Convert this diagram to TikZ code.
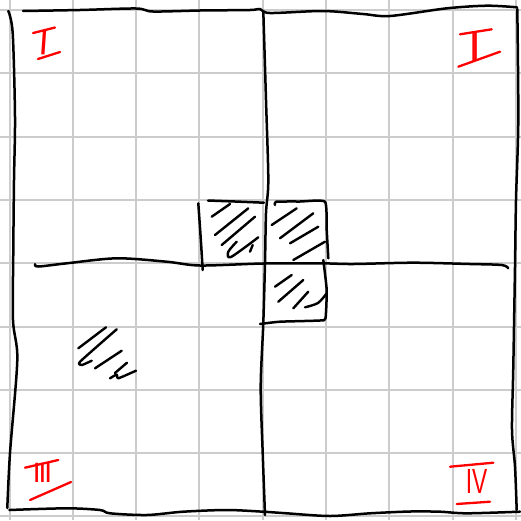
\documentclass[tikz,border=0pt]{standalone}
\usepackage{fontspec}
\setsansfont{Liberation Sans}
\begin{document}
\begin{tikzpicture}[x=1pt,y=-1pt,
  gridline/.style={draw=gray!40,line width=2pt},
  ink/.style={draw=black,line width=2.5pt,line cap=round,line join=round},
  hatch/.style={draw=black,line width=2.4pt,line cap=round,line join=round},
  redink/.style={draw=red,line width=2.3pt,line cap=round},
  numeral/.style={text=red,inner sep=0pt,font=\sffamily}]
\useasboundingbox (0,0) rectangle (521,520);
\fill[white] (0,0) rectangle (521,520);
% grid
\foreach \k in {0,...,8}{
  \draw[gridline] ({9.5+63.3*\k},0) -- ({9.5+63.3*\k},520);
  \draw[gridline] (0,{10+63.3*\k}) -- (521,{10+63.3*\k});
}
% outer frame
\draw[ink] plot[smooth,tension=0.5] coordinates {(23,11) (80,10) (136,8.5) (153,11.5) (200,10.5) (250,10) (260,9) (270,13) (323,11) (363,14) (390,16) (447,8.3) (487,5.7) (517,7.3)};
\draw[ink] plot[smooth,tension=0.5] coordinates {(8.3,11) (12.7,33) (15,116.7) (14,180) (13.3,250) (13,320) (17.3,360) (10,453) (7.3,508)};
\draw[ink] plot[smooth,tension=0.5] coordinates {(9.3,510) (66.7,508.3) (100,510) (110,513.3) (146.7,515) (183,511.7) (226.7,510) (263.3,511.7) (286.7,513.3) (330,516) (370,513.3) (410,511.5) (440,511.7) (466.7,513.3) (520,511.7)};
\draw[ink] plot[smooth,tension=0.5] coordinates {(517.3,9) (518.3,120) (516,200) (515,266.7) (513.3,366.7) (512,430) (515,466.7) (516.7,510)};
% centre cross
\draw[ink] plot[smooth,tension=0.5] coordinates {(263.3,11) (266,100) (268.3,180) (266,213) (265,263) (263.3,323) (260.7,386.7) (262.7,453) (265,515)};
\draw[ink] plot[smooth,tension=0.5] coordinates {(35,264) (38.3,266.5) (66.7,263.3) (116.7,258.3) (166.7,261.7) (200,265.5) (263,263.5) (320,263.3) (353,264) (413,262.7) (470,264) (501.7,265) (508.3,268.3)};
% squares
\draw[ink] plot[smooth,tension=0.5] coordinates {(198.3,203.3) (200.7,238) (202.7,270)};
\draw[ink] plot[smooth,tension=0.5] coordinates {(208,200.5) (235,201.5) (264,202.7)};
\draw[ink] plot[smooth,tension=0.3] coordinates {(275,205) (276,201.7) (300,201.5) (325,201.7) (326.7,230) (328.3,258.3)};
\draw[ink] plot[smooth,tension=0.3] coordinates {(323.3,260) (326.7,290) (325.5,318.3) (320,320.5) (280,321.7) (260,324)};
% hatching left square
\draw[hatch] (211.7,216.7) -- (230,204);
\draw[hatch] (215,235) -- (248.3,208.3);
\draw[hatch] (221.7,245) -- (255,216.7);
\draw[hatch] plot[smooth,tension=0.5] coordinates {(236.7,241.7) (228.3,251.7) (231,257) (258.3,237.3)};
\draw[hatch] (250,251.7) -- (252.7,245);
% hatching top-right square
\draw[hatch] (271.7,225) -- (296.7,208.3);
\draw[hatch] (280,238.3) -- (313.3,213.3);
\draw[hatch] (290,243.3) -- (318.3,226.7);
\draw[hatch] (293.3,260) -- (325,241.7);
% hatching bottom-right square
\draw[hatch] (275,286.7) -- (291.7,275);
\draw[hatch] (278.3,301.7) -- (303.3,280);
\draw[hatch] (293.3,308.3) -- (308.3,291.7);
\draw[hatch] plot[smooth,tension=0.5] coordinates {(305,307.3) (318,303) (326.7,293.3)};
% hatching lower-left
\draw[hatch] (78.3,348.3) -- (106,327.3);
\draw[hatch] plot[smooth,tension=0.3] coordinates {(116.7,329.3) (80,361.7) (82,365) (91.7,360.7)};
\draw[hatch] (95,368.3) -- (121.7,350.7);
\draw[hatch] (115,373) -- (127,362.7);
\draw[hatch] plot[smooth,tension=0.3] coordinates {(110,378.3) (116.7,374.5) (118.3,378.3) (136,370.7)};
% numerals
\node[numeral,font=\sffamily\fontsize{35}{35}\selectfont,rotate=-4] (n1) at (44.5,42.5) {I};
\draw[redink] (33,33) -- (55,27.5);
\draw[redink] (38,59) -- (60,52);
\node[numeral,font=\sffamily\fontsize{43}{43}\selectfont,xscale=0.6,transform shape] (n2) at (475.5,46.5) {I\kern-0.2em I};
\draw[redink] (460,34.3) -- (491.7,29.3);
\draw[redink] (458.3,66.7) -- (500,51.7);
\node[numeral,font=\sffamily\fontsize{28}{28}\selectfont] (n3) at (42.5,473) {I\kern-0.07em I\kern-0.07em I};
\draw[redink] (25,467.7) -- (58.3,460);
\draw[redink] (30,500) -- (71,482);
\node[numeral,font=\sffamily\fontsize{35}{35}\selectfont,xscale=0.65,transform shape] (n4) at (476.5,481) {IV};
\draw[redink] (450,466.7) -- (493.3,462.7);
\draw[redink] (456.7,504) -- (490,501.7);
\end{tikzpicture}
\end{document}
